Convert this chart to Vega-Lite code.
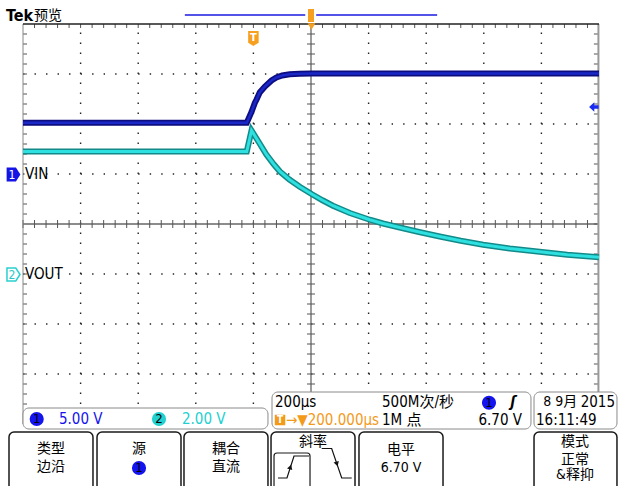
{
  "$schema": "https://vega.github.io/schema/vega-lite/v6.json",
  "width": 576,
  "height": 400,
  "autosize": "none",
  "padding": {"left": 23, "top": 24, "right": 20, "bottom": 62},
  "background": "white",
  "config": {"view": {"stroke": null}, "text": {"font": "'Liberation Sans Narrow', 'DejaVu Sans Condensed', 'Noto Sans CJK SC', sans-serif"}},
  "datasets": {
    "gridv": [{"gx":1,"gy":0,"gy2":8},{"gx":2,"gy":0,"gy2":8},{"gx":3,"gy":0,"gy2":8},{"gx":4,"gy":0,"gy2":8},{"gx":6,"gy":0,"gy2":8},{"gx":7,"gy":0,"gy2":8},{"gx":8,"gy":0,"gy2":8},{"gx":9,"gy":0,"gy2":8}],
    "gridh": [{"gy":1,"gx":0,"gx2":10},{"gy":2,"gx":0,"gx2":10},{"gy":3,"gx":0,"gx2":10},{"gy":5,"gx":0,"gx2":10},{"gy":6,"gx":0,"gx2":10},{"gy":7,"gx":0,"gx2":10}],
    "centre": [{"gx":5,"gx2":5,"gy":0,"gy2":8},{"gx":0,"gx2":10,"gy":4,"gy2":4}],
    "tx_c": [{"gx":0,"gy":4},{"gx":0.2,"gy":4},{"gx":0.4,"gy":4},{"gx":0.6,"gy":4},{"gx":0.8,"gy":4},{"gx":1,"gy":4},{"gx":1.2,"gy":4},{"gx":1.4,"gy":4},{"gx":1.6,"gy":4},{"gx":1.8,"gy":4},{"gx":2,"gy":4},{"gx":2.2,"gy":4},{"gx":2.4,"gy":4},{"gx":2.6,"gy":4},{"gx":2.8,"gy":4},{"gx":3,"gy":4},{"gx":3.2,"gy":4},{"gx":3.4,"gy":4},{"gx":3.6,"gy":4},{"gx":3.8,"gy":4},{"gx":4,"gy":4},{"gx":4.2,"gy":4},{"gx":4.4,"gy":4},{"gx":4.6,"gy":4},{"gx":4.8,"gy":4},{"gx":5.2,"gy":4},{"gx":5.4,"gy":4},{"gx":5.6,"gy":4},{"gx":5.8,"gy":4},{"gx":6,"gy":4},{"gx":6.2,"gy":4},{"gx":6.4,"gy":4},{"gx":6.6,"gy":4},{"gx":6.8,"gy":4},{"gx":7,"gy":4},{"gx":7.2,"gy":4},{"gx":7.4,"gy":4},{"gx":7.6,"gy":4},{"gx":7.8,"gy":4},{"gx":8,"gy":4},{"gx":8.2,"gy":4},{"gx":8.4,"gy":4},{"gx":8.6,"gy":4},{"gx":8.8,"gy":4},{"gx":9,"gy":4},{"gx":9.2,"gy":4},{"gx":9.4,"gy":4},{"gx":9.6,"gy":4},{"gx":9.8,"gy":4}],
    "tx_t": [{"gx":0.2,"gy":7.96},{"gx":0.4,"gy":7.96},{"gx":0.6,"gy":7.96},{"gx":0.8,"gy":7.96},{"gx":1,"gy":7.96},{"gx":1.2,"gy":7.96},{"gx":1.4,"gy":7.96},{"gx":1.6,"gy":7.96},{"gx":1.8,"gy":7.96},{"gx":2,"gy":7.96},{"gx":2.2,"gy":7.96},{"gx":2.4,"gy":7.96},{"gx":2.6,"gy":7.96},{"gx":2.8,"gy":7.96},{"gx":3,"gy":7.96},{"gx":3.2,"gy":7.96},{"gx":3.4,"gy":7.96},{"gx":3.6,"gy":7.96},{"gx":3.8,"gy":7.96},{"gx":4,"gy":7.96},{"gx":4.2,"gy":7.96},{"gx":4.4,"gy":7.96},{"gx":4.6,"gy":7.96},{"gx":4.8,"gy":7.96},{"gx":5.2,"gy":7.96},{"gx":5.4,"gy":7.96},{"gx":5.6,"gy":7.96},{"gx":5.8,"gy":7.96},{"gx":6,"gy":7.96},{"gx":6.2,"gy":7.96},{"gx":6.4,"gy":7.96},{"gx":6.6,"gy":7.96},{"gx":6.8,"gy":7.96},{"gx":7,"gy":7.96},{"gx":7.2,"gy":7.96},{"gx":7.4,"gy":7.96},{"gx":7.6,"gy":7.96},{"gx":7.8,"gy":7.96},{"gx":8,"gy":7.96},{"gx":8.2,"gy":7.96},{"gx":8.4,"gy":7.96},{"gx":8.6,"gy":7.96},{"gx":8.8,"gy":7.96},{"gx":9,"gy":7.96},{"gx":9.2,"gy":7.96},{"gx":9.4,"gy":7.96},{"gx":9.6,"gy":7.96},{"gx":9.8,"gy":7.96}],
    "ty_c": [{"gx":5,"gy":0.2},{"gx":5,"gy":0.4},{"gx":5,"gy":0.6},{"gx":5,"gy":0.8},{"gx":5,"gy":1},{"gx":5,"gy":1.2},{"gx":5,"gy":1.4},{"gx":5,"gy":1.6},{"gx":5,"gy":1.8},{"gx":5,"gy":2},{"gx":5,"gy":2.2},{"gx":5,"gy":2.4},{"gx":5,"gy":2.6},{"gx":5,"gy":2.8},{"gx":5,"gy":3},{"gx":5,"gy":3.2},{"gx":5,"gy":3.4},{"gx":5,"gy":3.6},{"gx":5,"gy":3.8},{"gx":5,"gy":4.2},{"gx":5,"gy":4.4},{"gx":5,"gy":4.6},{"gx":5,"gy":4.8},{"gx":5,"gy":5},{"gx":5,"gy":5.2},{"gx":5,"gy":5.4},{"gx":5,"gy":5.6},{"gx":5,"gy":5.8},{"gx":5,"gy":6},{"gx":5,"gy":6.2},{"gx":5,"gy":6.4},{"gx":5,"gy":6.6},{"gx":5,"gy":6.8},{"gx":5,"gy":7},{"gx":5,"gy":7.2},{"gx":5,"gy":7.4},{"gx":5,"gy":7.6},{"gx":5,"gy":7.8}],
    "ty_l": [{"gx":0.035,"gy":0.2},{"gx":0.035,"gy":0.4},{"gx":0.035,"gy":0.6},{"gx":0.035,"gy":0.8},{"gx":0.035,"gy":1},{"gx":0.035,"gy":1.2},{"gx":0.035,"gy":1.4},{"gx":0.035,"gy":1.6},{"gx":0.035,"gy":1.8},{"gx":0.035,"gy":2},{"gx":0.035,"gy":2.2},{"gx":0.035,"gy":2.4},{"gx":0.035,"gy":2.6},{"gx":0.035,"gy":2.8},{"gx":0.035,"gy":3},{"gx":0.035,"gy":3.2},{"gx":0.035,"gy":3.4},{"gx":0.035,"gy":3.6},{"gx":0.035,"gy":3.8},{"gx":0.035,"gy":4.2},{"gx":0.035,"gy":4.4},{"gx":0.035,"gy":4.6},{"gx":0.035,"gy":4.8},{"gx":0.035,"gy":5.2},{"gx":0.035,"gy":5.4},{"gx":0.035,"gy":5.6},{"gx":0.035,"gy":5.8},{"gx":0.035,"gy":6},{"gx":0.035,"gy":6.2},{"gx":0.035,"gy":6.4},{"gx":0.035,"gy":6.6},{"gx":0.035,"gy":6.8},{"gx":0.035,"gy":7},{"gx":0.035,"gy":7.2},{"gx":0.035,"gy":7.4},{"gx":0.035,"gy":7.6},{"gx":0.035,"gy":7.8}],
    "ty_r": [{"gx":9.955,"gy":0.2},{"gx":9.955,"gy":0.4},{"gx":9.955,"gy":0.6},{"gx":9.955,"gy":0.8},{"gx":9.955,"gy":1},{"gx":9.955,"gy":1.2},{"gx":9.955,"gy":1.4},{"gx":9.955,"gy":1.6},{"gx":9.955,"gy":1.8},{"gx":9.955,"gy":2},{"gx":9.955,"gy":2.2},{"gx":9.955,"gy":2.4},{"gx":9.955,"gy":2.6},{"gx":9.955,"gy":2.8},{"gx":9.955,"gy":3},{"gx":9.955,"gy":3.2},{"gx":9.955,"gy":3.4},{"gx":9.955,"gy":3.6},{"gx":9.955,"gy":3.8},{"gx":9.955,"gy":4},{"gx":9.955,"gy":4.2},{"gx":9.955,"gy":4.4},{"gx":9.955,"gy":4.6},{"gx":9.955,"gy":4.8},{"gx":9.955,"gy":5},{"gx":9.955,"gy":5.2},{"gx":9.955,"gy":5.4},{"gx":9.955,"gy":5.6},{"gx":9.955,"gy":5.8},{"gx":9.955,"gy":6},{"gx":9.955,"gy":6.2},{"gx":9.955,"gy":6.4},{"gx":9.955,"gy":6.6},{"gx":9.955,"gy":6.8},{"gx":9.955,"gy":7},{"gx":9.955,"gy":7.2},{"gx":9.955,"gy":7.4},{"gx":9.955,"gy":7.6},{"gx":9.955,"gy":7.8}],
    "frame_top": [{"gx":0,"gx2":10,"gy":8,"gy2":8}],
    "frame_l": [{"gx":0,"gx2":0,"gy":0,"gy2":8}],
    "frame_r": [{"gx":9.99,"gx2":9.99,"gy":0,"gy2":8}],
    "ch1": [{"t":-800,"v":5.13},{"t":-23,"v":5.13},{"t":-6.6,"v":6.2},{"t":4.9,"v":7.1},{"t":11,"v":7.45},{"t":22,"v":8.15},{"t":40,"v":8.75},{"t":63,"v":9.35},{"t":80,"v":9.65},{"t":100,"v":9.85},{"t":126,"v":9.97},{"t":160,"v":10.03},{"t":202,"v":10.05},{"t":1200,"v":10.05}],
    "ch2": [{"t":-800,"v":4.9},{"t":-23,"v":4.9},{"t":-6.6,"v":5.74},{"t":20,"v":5.25},{"t":45,"v":4.78},{"t":70,"v":4.4},{"t":92,"v":4.1},{"t":125,"v":3.78},{"t":161,"v":3.49},{"t":202,"v":3.2},{"t":240,"v":2.95},{"t":276,"v":2.73},{"t":335,"v":2.44},{"t":404,"v":2.17},{"t":450,"v":2.02},{"t":508,"v":1.86},{"t":575,"v":1.68},{"t":647,"v":1.5},{"t":720,"v":1.33},{"t":798,"v":1.17},{"t":890,"v":1.02},{"t":994,"v":0.89},{"t":1090,"v":0.77},{"t":1200,"v":0.67}],
    "trig": [{"t": 1182, "v": 6.7}],
    "topbar": [{"gx": 2.81, "gx2": 4.9, "gy": 8.18}, {"gx": 5.09, "gx2": 7.19, "gy": 8.18}],
    "boxes": [{"gx": 0, "gx2": 4.253, "gy": 0.32, "gy2": -0.1}, {"gx": 4.323, "gx2": 8.819, "gy": 0.64, "gy2": -0.1}, {"gx": 8.872, "gx2": 10.312, "gy": 0.64, "gy2": -0.1}],
    "buttons": [{"gx": -0.243, "gx2": 1.215, "gy": -0.16, "gy2": -1.4}, {"gx": 1.285, "gx2": 2.743, "gy": -0.16, "gy2": -1.4}, {"gx": 2.795, "gx2": 4.253, "gy": -0.16, "gy2": -1.4}, {"gx": 4.306, "gx2": 5.764, "gy": -0.16, "gy2": -1.4}, {"gx": 5.833, "gx2": 7.292, "gy": -0.16, "gy2": -1.4}, {"gx": 8.872, "gx2": 10.312, "gy": -0.16, "gy2": -1.4}],
    "edges": [{"seg":"r","o":1,"gx":4.427,"gy":-1.08},{"seg":"r","o":2,"gx":4.583,"gy":-1.08},{"seg":"r","o":3,"gx":4.705,"gy":-0.64},{"seg":"r","o":4,"gx":4.965,"gy":-0.64},{"seg":"f","o":1,"gx":5.186,"gy":-0.49},{"seg":"f","o":2,"gx":5.359,"gy":-0.49},{"seg":"f","o":3,"gx":5.533,"gy":-1.08},{"seg":"f","o":4,"gx":5.707,"gy":-1.08}],
    "badges": [{"gx": 0.238, "gy": 0.1, "ch": "1", "s": "1"}, {"gx": 2.361, "gy": 0.1, "ch": "2", "s": "2"}, {"gx": 8.09, "gy": 0.426, "ch": "1", "s": "1"}, {"gx": 2.014, "gy": -0.88, "ch": "1", "s": "1"}],
    "textl": [{"gx":0.625,"gy":0.1,"s":"5.00 V","ch":"1"},{"gx":2.76,"gy":0.1,"s":"2.00 V","ch":"2"},{"gx":4.375,"gy":0.44,"s":"200µs","ch":"-"},{"gx":6.233,"gy":0.44,"s":"500M次/秒","ch":"-"},{"gx":4.566,"gy":0.08,"s":"→▼200.000µs","ch":"T"},{"gx":6.233,"gy":0.08,"s":"1M 点","ch":"-"},{"gx":8.906,"gy":0.08,"s":"16:11:49","ch":"-"},{"gx":0.035,"gy":5,"s":"VIN","ch":"-"},{"gx":0.035,"gy":3,"s":"VOUT","ch":"-"}],
    "textr": [{"gx":8.663,"gy":0.08,"s":"6.70 V"},{"gx":10.278,"gy":0.44,"s":"2015"}],
    "datetxt": [{"gx":9.03,"gy":0.44,"s":"8 9月"}],
    "btext": [{"gx":0.486,"gy":-0.5,"s":"类型"},{"gx":0.486,"gy":-0.86,"s":"边沿"},{"gx":2.014,"gy":-0.5,"s":"源"},{"gx":3.524,"gy":-0.5,"s":"耦合"},{"gx":3.524,"gy":-0.86,"s":"直流"},{"gx":5.035,"gy":-0.35,"s":"斜率"},{"gx":6.563,"gy":-0.52,"s":"电平"},{"gx":6.563,"gy":-0.87,"s":"6.70 V"},{"gx":9.583,"gy":-0.35,"s":"模式"},{"gx":9.583,"gy":-0.71,"s":"正常"},{"gx":9.583,"gy":-1.02,"s":"&释抑"}]
  },
  "resolve": {"scale": {"x": "independent", "y": "independent", "color": "independent"}},
  "layer": [
    {
      "encoding": {
        "x": {"field": "gx", "type": "quantitative", "scale": {"domain": [0, 10], "nice": false, "zero": false}, "axis": null},
        "y": {"field": "gy", "type": "quantitative", "scale": {"domain": [0, 8], "nice": false, "zero": false}, "axis": null}
      },
      "layer": [
        {"data": {"name": "gridv"}, "mark": {"type": "rule", "color": "#222", "strokeWidth": 1.4, "strokeDash": [1.4, 8.6]},
         "encoding": {"y2": {"field": "gy2"}}},
        {"data": {"name": "gridh"}, "mark": {"type": "rule", "color": "#222", "strokeWidth": 1.4, "strokeDash": [1.4, 10.12]},
         "encoding": {"x2": {"field": "gx2"}}},
        {"data": {"name": "centre"}, "mark": {"type": "rule", "color": "#666", "strokeWidth": 1.3},
         "encoding": {"x2": {"field": "gx2"}, "y2": {"field": "gy2"}}},
        {"data": {"name": "tx_c"}, "mark": {"type": "tick", "orient": "vertical", "color": "#555", "opacity": 1, "thickness": 1, "size": 8}},
        {"data": {"name": "tx_t"}, "mark": {"type": "tick", "orient": "vertical", "color": "#555", "opacity": 1, "thickness": 1, "size": 4}},
        {"data": {"name": "ty_c"}, "mark": {"type": "tick", "orient": "horizontal", "color": "#555", "opacity": 1, "thickness": 1, "size": 8}},
        {"data": {"name": "ty_l"}, "mark": {"type": "tick", "orient": "horizontal", "color": "#555", "opacity": 1, "thickness": 1, "size": 4}},
        {"data": {"name": "ty_r"}, "mark": {"type": "tick", "orient": "horizontal", "color": "#555", "opacity": 1, "thickness": 1, "size": 5}},
        {"data": {"name": "frame_l"}, "mark": {"type": "rule", "color": "#888", "strokeWidth": 1},
         "encoding": {"x2": {"field": "gx2"}, "y2": {"field": "gy2"}}},
        {"data": {"name": "frame_r"}, "mark": {"type": "rule", "color": "#999", "strokeWidth": 2},
         "encoding": {"x2": {"field": "gx2"}, "y2": {"field": "gy2"}}},
        {"data": {"name": "frame_top"}, "mark": {"type": "rule", "color": "#222", "strokeWidth": 1.5},
         "encoding": {"x2": {"field": "gx2"}, "y2": {"field": "gy2"}}}
      ]
    },
    {
      "encoding": {
        "x": {"field": "t", "type": "quantitative", "scale": {"domain": [-800, 1200], "nice": false, "zero": false}, "axis": null},
        "y": {"field": "v", "type": "quantitative", "scale": {"domain": [-25, 15], "nice": false, "zero": false}, "axis": null}
      },
      "layer": [
        {"data": {"name": "ch1"}, "mark": {"type": "line", "color": "#0d0d80", "strokeWidth": 6}},
        {"data": {"name": "ch1"}, "mark": {"type": "line", "color": "#1a28c8", "strokeWidth": 2.5}},
        {"data": {"name": "trig"}, "mark": {"type": "point", "filled": true, "opacity": 1, "color": "#1a2cf0", "size": 90, "shape": "M-1,0L0.1,-1L0.1,-0.35L1,-0.35L1,0.35L0.1,0.35L0.1,1Z"}}
      ]
    },
    {
      "encoding": {
        "x": {"field": "t", "type": "quantitative", "scale": {"domain": [-800, 1200], "nice": false, "zero": false}, "axis": null},
        "y": {"field": "v", "type": "quantitative", "scale": {"domain": [-6, 10], "nice": false, "zero": false}, "axis": null}
      },
      "layer": [
        {"data": {"name": "ch2"}, "mark": {"type": "line", "color": "#138a8a", "strokeWidth": 6}},
        {"data": {"name": "ch2"}, "mark": {"type": "line", "color": "#2ee0e0", "strokeWidth": 3}}
      ]
    },
    {
      "encoding": {
        "x": {"field": "gx", "type": "quantitative", "scale": {"domain": [0, 10], "nice": false, "zero": false}, "axis": null},
        "y": {"field": "gy", "type": "quantitative", "scale": {"domain": [0, 8], "nice": false, "zero": false}, "axis": null}
      },
      "layer": [
        {"data": {"name": "topbar"}, "mark": {"type": "rule", "color": "#1a1ae0", "strokeWidth": 1.5},
         "encoding": {"x2": {"field": "gx2"}}},
        {"data": {"values": [{"gx": 4.948, "gx2": 5.052, "gy": 8.3, "gy2": 8.04}]}, "mark": {"type": "rect", "fill": "#f5a020"},
         "encoding": {"x2": {"field": "gx2"}, "y2": {"field": "gy2"}}},
        {"data": {"values": [{"gx": 5.009, "gy": 7.95}]}, "mark": {"type": "point", "shape": "triangle-down", "filled": true, "opacity": 1, "color": "#f5a020", "size": 60}},
        {"data": {"values": [{"gx": 4.0, "gy": 7.71}]}, "mark": {"type": "point", "shape": "M-0.7,-1L0.7,-1L0.7,0.55L0,1L-0.7,0.55Z", "filled": true, "opacity": 1, "color": "#f5a020", "size": 225}},
        {"data": {"values": [{"gx": 4.0, "gy": 7.73, "s": "T"}]}, "mark": {"type": "text", "color": "white", "fontSize": 11, "fontWeight": "bold", "baseline": "middle", "align": "center"},
         "encoding": {"text": {"field": "s"}}},
        {"data": {"values": [{"gx": -0.165, "gy": 4.99}]}, "mark": {"type": "point", "shape": "M-1,-1L0.35,-1L1,0L0.35,1L-1,1Z", "filled": true, "opacity": 1, "color": "#1414e6", "size": 190}},
        {"data": {"values": [{"gx": -0.19, "gy": 4.99, "s": "1"}]}, "mark": {"type": "text", "color": "white", "fontSize": 12, "baseline": "middle", "align": "center"},
         "encoding": {"text": {"field": "s"}}},
        {"data": {"values": [{"gx": -0.165, "gy": 2.99}]}, "mark": {"type": "point", "shape": "M-1,-1L0.35,-1L1,0L0.35,1L-1,1Z", "filled": true, "opacity": 1, "fill": "white", "stroke": "#28d0d0", "strokeWidth": 1.5, "size": 170}},
        {"data": {"values": [{"gx": -0.19, "gy": 2.99, "s": "2"}]}, "mark": {"type": "text", "color": "#28c8c8", "fontSize": 12, "baseline": "middle", "align": "center"},
         "encoding": {"text": {"field": "s"}}},
        {"data": {"name": "boxes"}, "mark": {"type": "rect", "fill": "white", "stroke": "#8a8a8a", "strokeWidth": 1, "cornerRadius": 6},
         "encoding": {"x2": {"field": "gx2"}, "y2": {"field": "gy2"}}},
        {"data": {"name": "buttons"}, "mark": {"type": "rect", "fill": "white", "stroke": "#1a1a1a", "strokeWidth": 1.5, "cornerRadius": 5},
         "encoding": {"x2": {"field": "gx2"}, "y2": {"field": "gy2"}}},
        {"data": {"values": [{"gx": 4.358, "gx2": 4.983, "gy": -0.58, "gy2": -1.32}]}, "mark": {"type": "rect", "fill": "white", "stroke": "#1a1a1a", "strokeWidth": 1.2, "cornerRadius": 3},
         "encoding": {"x2": {"field": "gx2"}, "y2": {"field": "gy2"}}},
        {"data": {"name": "edges"}, "mark": {"type": "line", "color": "#111", "strokeWidth": 1.2},
         "encoding": {"detail": {"field": "seg"}, "order": {"field": "o"}}},
        {"data": {"values": [{"gx": 4.642, "gy": -0.86, "a": 18}, {"gx": 5.45, "gy": -0.8, "a": 162}]}, "mark": {"type": "point", "shape": "triangle-up", "filled": true, "opacity": 1, "color": "#111", "size": 30},
         "encoding": {"angle": {"field": "a", "type": "quantitative", "scale": null}}},
        {"data": {"name": "badges"}, "mark": {"type": "point", "shape": "circle", "filled": true, "opacity": 1, "size": 200},
         "encoding": {"color": {"field": "ch", "type": "nominal", "scale": {"domain": ["1", "2", "T", "-"], "range": ["#1414ee", "#22d0d0", "#f39a1a", "#000000"]}, "legend": null}}},
        {"data": {"name": "badges"}, "mark": {"type": "text", "color": "black", "fontSize": 13, "baseline": "middle", "align": "center"},
         "encoding": {"text": {"field": "s"}}},
        {"data": {"values": [{"gx": 4.462, "gy": 0.08}]}, "mark": {"type": "square", "filled": true, "opacity": 1, "color": "#f39a1a", "size": 110}},
        {"data": {"values": [{"gx": 4.462, "gy": 0.085, "s": "T"}]}, "mark": {"type": "text", "color": "white", "fontSize": 10, "fontWeight": "bold", "baseline": "middle", "align": "center"},
         "encoding": {"text": {"field": "s"}}},
        {"data": {"name": "textl"}, "mark": {"type": "text", "fontSize": 15, "baseline": "middle", "align": "left"},
         "encoding": {"text": {"field": "s"}, "color": {"field": "ch", "type": "nominal", "scale": {"domain": ["1", "2", "T", "-"], "range": ["#2233ee", "#22c8c8", "#f39a1a", "#000000"]}, "legend": null}}},
        {"data": {"name": "textr"}, "mark": {"type": "text", "fontSize": 15, "baseline": "middle", "align": "right", "color": "black"},
         "encoding": {"text": {"field": "s"}}},
        {"data": {"name": "datetxt"}, "mark": {"type": "text", "fontSize": 14, "baseline": "middle", "align": "left", "color": "black"},
         "encoding": {"text": {"field": "s"}}},
        {"data": {"values": [{"gx": 8.507, "gy": 0.44, "s": "ʃ"}]}, "mark": {"type": "text", "fontSize": 15, "fontWeight": "bold", "fontStyle": "italic", "baseline": "middle", "align": "center", "color": "black"},
         "encoding": {"text": {"field": "s"}}},
        {"data": {"name": "btext"}, "mark": {"type": "text", "fontSize": 14, "baseline": "middle", "align": "center", "color": "black"},
         "encoding": {"text": {"field": "s"}}},
        {"data": {"values": [{"gx": -0.295, "gy": 8.17, "s": "Tek"}]}, "mark": {"type": "text", "fontSize": 16, "fontWeight": "bold", "baseline": "middle", "align": "left", "color": "black"},
         "encoding": {"text": {"field": "s"}}},
        {"data": {"values": [{"gx": 0.19, "gy": 8.17, "s": "预览"}]}, "mark": {"type": "text", "fontSize": 14, "baseline": "middle", "align": "left", "color": "black"},
         "encoding": {"text": {"field": "s"}}}
      ]
    }
  ]
}
